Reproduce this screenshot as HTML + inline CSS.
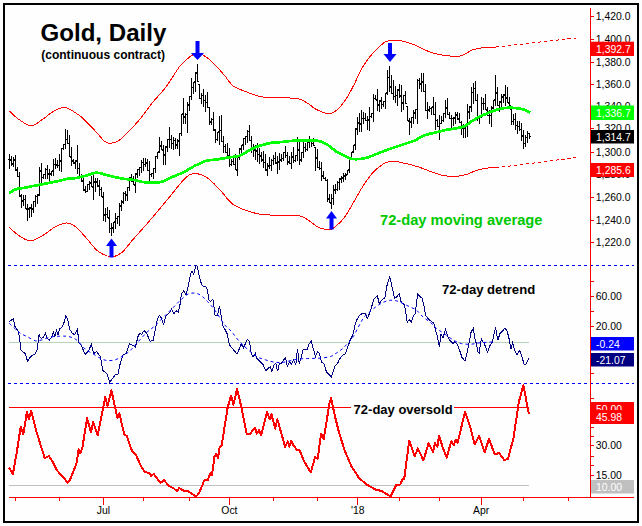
<!DOCTYPE html>
<html><head><meta charset="utf-8"><style>
html,body{margin:0;padding:0;background:#fcfdfc;}
svg{display:block;}
</style></head><body>
<svg width="642" height="526" viewBox="0 0 642 526">
<rect x="0" y="0" width="642" height="526" fill="#fcfdfc"/>
<rect x="4" y="4" width="634" height="518" fill="#fdfefd" stroke="#000" stroke-width="2"/>
<g shape-rendering="crispEdges">
<path d="M8,265.5H634M8,383.5H634" stroke="#0000ff" stroke-width="1" stroke-dasharray="3,3"/>
<path d="M9,342.5H529" stroke="#b8d4b8" stroke-width="1"/>
<path d="M9,485.5H529" stroke="#c0c0c0" stroke-width="1"/>
<path d="M9,407.5H352M454,407.5H527" stroke="#ff0000" stroke-width="1"/>
<path d="M9,497.5H634" stroke="#ff0000" stroke-width="1"/>
<path d="M590.5,8V498" stroke="#ff0000" stroke-width="1"/>
<path d="M15.5,498v3M59.5,498v3M143.5,498v3M189.5,498v3M273.5,498v3M317.5,498v3M399.5,498v3M439.5,498v3M523.5,498v3M568.5,498v3M103.5,498v7M229.5,498v7M357.5,498v7M481.5,498v7" stroke="#ff0000" stroke-width="1"/>
<path d="M591,242.5h3M591,220.5h3M591,197.5h3M591,174.5h3M591,152.5h3M591,128.5h3M591,106.5h3M591,84.5h3M591,62.5h3M591,39.5h3M591,16.5h3M591,281.5h3M591,296.5h3M591,311.5h3M591,326.5h3M591,373.5h3M591,398.5h3M591,427.5h3M591,436.5h3M591,445.5h3M591,456.5h3M591,465.5h3M591,475.5h3" stroke="#ff0000" stroke-width="1"/>
</g>
<path d="M9.3,111.0 C10.9,112.4 15.3,117.0 19.0,119.5 C22.7,122.0 27.5,125.9 31.5,125.8 C35.5,125.7 39.2,121.5 43.0,119.0 C46.8,116.5 50.3,112.9 54.0,111.0 C57.7,109.1 60.9,106.8 65.0,107.5 C69.1,108.2 74.8,112.2 78.8,115.0 C82.8,117.8 85.8,121.2 89.1,124.5 C92.4,127.8 96.0,131.8 98.5,134.6 C101.0,137.3 102.1,139.5 104.0,141.0 C105.9,142.5 107.5,143.5 110.0,143.4 C112.5,143.3 116.2,142.1 118.9,140.5 C121.6,138.9 123.5,136.4 126.0,134.0 C128.5,131.6 131.0,129.3 134.0,126.0 C137.0,122.7 140.7,118.2 144.0,114.0 C147.3,109.8 150.1,105.5 153.8,101.0 C157.5,96.5 161.6,92.8 166.0,87.0 C170.4,81.2 175.8,71.2 180.0,66.0 C184.2,60.8 188.3,58.0 191.2,55.8 C194.1,53.6 195.5,53.2 197.4,53.0 C199.3,52.8 200.5,53.7 202.4,54.7 C204.3,55.7 206.7,57.0 209.0,59.0 C211.3,61.0 213.7,63.6 216.4,66.4 C219.1,69.2 222.2,72.7 225.0,76.0 C227.8,79.3 229.6,83.3 233.3,86.0 C237.0,88.7 242.2,90.3 247.3,92.2 C252.4,94.1 256.6,96.3 264.1,97.3 C271.6,98.3 286.0,97.7 292.1,98.1 C298.2,98.5 297.9,98.6 300.5,99.5 C303.1,100.4 305.6,102.0 308.0,103.5 C310.4,105.0 313.1,107.6 315.0,108.8 C316.9,110.0 318.1,110.1 319.6,110.8 C321.1,111.5 322.3,112.5 324.1,112.9 C325.9,113.4 328.2,113.9 330.2,113.5 C332.2,113.1 334.3,112.0 336.3,110.5 C338.3,109.0 340.4,106.8 342.4,104.2 C344.4,101.6 346.5,98.5 348.5,95.1 C350.5,91.7 352.5,87.8 354.5,83.7 C356.5,79.6 358.6,74.5 360.6,70.7 C362.6,66.9 364.7,63.8 366.7,60.9 C368.7,58.0 370.8,55.6 372.8,53.3 C374.8,51.0 376.9,49.1 378.9,47.2 C380.9,45.3 383.0,43.1 385.0,42.0 C387.0,40.9 388.5,40.8 391.0,40.5 C393.5,40.2 395.8,39.8 399.8,40.5 C403.8,41.2 409.8,43.1 414.8,45.0 C419.8,46.9 425.1,50.3 429.7,52.0 C434.3,53.7 437.2,54.3 442.2,55.0 C447.2,55.7 454.7,57.0 459.7,56.2 C464.7,55.4 468.0,51.5 472.2,50.0 C476.4,48.5 480.6,48.0 484.6,47.5 C488.6,47.0 494.1,47.1 496.0,47.0" fill="none" stroke="#ff0000" stroke-width="1" shape-rendering="crispEdges"/>
<path d="M9.2,227.3 C10.9,228.8 16.1,233.8 19.6,236.0 C23.2,238.2 26.5,241.0 30.5,240.8 C34.5,240.6 39.6,237.2 43.6,234.9 C47.6,232.7 50.7,229.3 54.5,227.3 C58.3,225.3 62.9,222.9 66.5,222.9 C70.1,222.9 72.8,224.6 76.3,227.3 C79.8,230.0 83.6,235.2 87.2,239.2 C90.8,243.2 94.1,248.3 98.1,251.2 C102.1,254.1 107.2,256.5 111.2,256.7 C115.2,256.9 118.5,255.2 122.1,252.3 C125.7,249.4 127.9,245.3 133.0,239.5 C138.1,233.7 146.7,224.2 152.7,217.2 C158.7,210.2 163.6,204.1 169.0,197.6 C174.4,191.1 181.0,182.0 185.4,178.0 C189.8,174.0 191.7,173.5 195.4,173.6 C199.2,173.7 203.8,175.6 207.9,178.3 C212.0,181.0 215.8,185.7 220.0,190.0 C224.2,194.3 228.1,200.7 232.8,204.2 C237.5,207.7 242.8,209.2 248.0,211.0 C253.2,212.8 255.6,213.9 264.0,214.7 C272.4,215.5 290.9,214.8 298.2,215.7 C305.5,216.6 304.9,218.2 308.0,220.0 C311.1,221.8 314.4,225.1 316.9,226.6 C319.4,228.1 320.6,228.4 323.0,228.8 C325.4,229.2 328.7,229.9 331.1,229.3 C333.5,228.7 335.2,226.7 337.2,225.0 C339.2,223.3 341.3,221.4 343.3,218.9 C345.3,216.4 347.3,213.1 349.3,209.8 C351.3,206.5 353.4,202.7 355.4,199.1 C357.4,195.5 359.5,191.8 361.5,188.5 C363.5,185.2 365.6,182.1 367.6,179.3 C369.6,176.5 371.7,173.8 373.7,171.7 C375.7,169.5 377.8,167.9 379.8,166.4 C381.8,164.9 383.8,163.4 385.8,162.6 C387.8,161.8 389.9,161.5 391.9,161.4 C393.9,161.3 395.8,161.5 398.0,161.8 C400.2,162.1 401.6,162.6 405.0,163.4 C408.4,164.2 412.2,164.9 418.1,166.8 C424.0,168.7 434.4,173.3 440.5,174.9 C446.6,176.5 450.4,176.4 454.6,176.4 C458.8,176.4 462.1,175.7 465.8,174.7 C469.5,173.7 473.3,171.3 477.0,170.2 C480.7,169.1 485.1,168.4 488.2,168.0 C491.3,167.6 494.5,167.8 495.8,167.8" fill="none" stroke="#ff0000" stroke-width="1" shape-rendering="crispEdges"/>
<path d="M496.0,47.0L576.0,38.0" stroke="#ff0000" stroke-width="1" stroke-dasharray="3.5,2.5" shape-rendering="crispEdges"/>
<path d="M496.0,167.8L576.0,157.6" stroke="#ff0000" stroke-width="1" stroke-dasharray="3.5,2.5" shape-rendering="crispEdges"/>
<g shape-rendering="crispEdges" stroke="#000" stroke-width="1">
<path d="M9.5,154v15M11.5,156v10M13.5,157v10M15.5,155v16M17.5,167v10M19.5,172v25M21.5,194v14M23.5,195v11M25.5,195v14M27.5,204v17M29.5,207v11M31.5,204v13M33.5,201v12M35.5,195v12M37.5,194v10M39.5,167v29M41.5,163v20M43.5,174v5M45.5,168v11M47.5,165v14M49.5,169v12M51.5,171v5M53.5,159v17M55.5,158v11M57.5,160v8M59.5,154v17M61.5,148v24M63.5,144v6M65.5,129v20M67.5,130v14M69.5,135v22M71.5,147v19M73.5,159v5M75.5,160v9M77.5,145v29M79.5,163v14M81.5,174v8M83.5,175v16M85.5,186v7M87.5,184v8M89.5,181v9M91.5,176v11M93.5,175v25M95.5,178v14M97.5,178v9M99.5,180v16M101.5,187v10M103.5,192v29M105.5,208v14M107.5,207v11M109.5,210v23M111.5,223v13M113.5,222v11M115.5,213v16M117.5,216v8M119.5,203v23M121.5,200v11M123.5,192v12M125.5,191v10M127.5,187v14M129.5,177v14M131.5,174v8M133.5,176v9M135.5,173v20M137.5,169v9M139.5,167v9M141.5,160v13M143.5,158v13M145.5,158v9M147.5,159v12M149.5,161v20M151.5,173v4M153.5,168v11M155.5,156v17M157.5,152v7M159.5,137v16M161.5,141v9M163.5,145v20M165.5,146v19M167.5,139v13M169.5,127v21M171.5,135v14M173.5,137v13M175.5,138v11M177.5,139v10M179.5,133v23M181.5,114v22M183.5,98v26M185.5,113v11M187.5,102v31M189.5,96v15M191.5,78v22M193.5,82v12M195.5,72v20M197.5,64v18M199.5,84v15M201.5,93v11M203.5,89v18M205.5,95v17M207.5,92v16M209.5,107v18M211.5,118v7M213.5,112v19M215.5,129v14M217.5,132v9M219.5,116v29M221.5,115v27M223.5,136v17M225.5,144v9M227.5,143v13M229.5,148v19M231.5,159v7M233.5,156v9M235.5,154v16M237.5,157v19M239.5,148v12M241.5,145v8M243.5,138v12M245.5,136v9M247.5,130v13M249.5,125v16M251.5,136v17M253.5,144v13M255.5,145v15M257.5,143v19M259.5,148v16M261.5,152v10M263.5,151v17M265.5,154v17M267.5,163v13M269.5,157v12M271.5,159v12M273.5,155v10M275.5,152v12M277.5,156v18M279.5,153v17M281.5,154v8M283.5,152v9M285.5,146v12M287.5,152v13M289.5,156v8M291.5,152v17M293.5,147v16M295.5,155v7M297.5,137v24M299.5,142v23M301.5,152v10M303.5,142v16M305.5,143v9M307.5,142v9M309.5,136v12M311.5,139v8M313.5,138v8M315.5,147v24M317.5,149v19M319.5,161v9M321.5,162v19M323.5,171v8M325.5,177v4M327.5,179v23M329.5,194v9M331.5,194v15M333.5,185v20M335.5,184v10M337.5,181v10M339.5,178v12M341.5,176v7M343.5,173v9M345.5,173v7M347.5,170v5M349.5,159v14M351.5,152v7M353.5,145v8M355.5,128v22M357.5,117v18M359.5,113v19M361.5,110v22M363.5,112v12M365.5,113v8M367.5,116v14M369.5,107v24M371.5,113v5M373.5,94v28M375.5,95v5M377.5,89v22M379.5,100v12M381.5,97v12M383.5,101v6M385.5,93v16M387.5,70v25M389.5,66v26M391.5,75v19M393.5,80v20M395.5,86v17M397.5,89v17M399.5,84v14M401.5,85v27M403.5,95v15M405.5,91v13M407.5,106v15M409.5,118v17M411.5,117v11M413.5,110v14M415.5,109v10M417.5,79v45M419.5,78v11M421.5,73v19M423.5,73v19M425.5,84v27M427.5,102v17M429.5,106v6M431.5,107v8M433.5,97v18M435.5,102v28M437.5,119v8M439.5,115v25M441.5,116v8M443.5,113v9M445.5,100v18M447.5,98v17M449.5,112v7M451.5,115v15M453.5,117v9M455.5,112v12M457.5,112v8M459.5,113v10M461.5,121v14M463.5,124v14M465.5,125v13M467.5,104v33M469.5,106v13M471.5,87v25M473.5,83v21M475.5,81v20M477.5,94v27M479.5,115v9M481.5,97v21M483.5,98v12M485.5,94v16M487.5,107v9M489.5,110v14M491.5,106v21M493.5,100v10M495.5,75v31M497.5,87v19M499.5,101v11M501.5,94v13M503.5,94v9M505.5,85v21M507.5,87v16M509.5,97v9M511.5,109v16M513.5,114v11M515.5,113v17M517.5,121v13M519.5,121v10M521.5,123v18M523.5,130v19M525.5,135v12M527.5,131v12M529.5,133v6"/>
<path d="M8,159.5h1M10,159.5h1M10,160.5h1M12,164.5h1M12,163.5h1M14,160.5h1M14,159.5h1M16,170.5h1M16,169.5h1M18,176.5h1M18,176.5h1M20,196.5h1M20,195.5h1M22,200.5h1M22,201.5h1M24,199.5h1M24,199.5h1M26,208.5h1M26,209.5h1M28,209.5h1M28,208.5h1M30,208.5h1M30,207.5h1M32,208.5h1M32,209.5h1M34,201.5h1M34,201.5h1M36,196.5h1M36,196.5h1M38,194.5h1M38,195.5h1M40,171.5h1M40,170.5h1M42,177.5h1M42,177.5h1M44,174.5h1M44,174.5h1M46,169.5h1M46,169.5h1M48,174.5h1M48,173.5h1M50,174.5h1M50,173.5h1M52,171.5h1M52,170.5h1M54,164.5h1M54,164.5h1M56,164.5h1M56,165.5h1M58,165.5h1M58,165.5h1M60,160.5h1M60,161.5h1M62,148.5h1M62,148.5h1M64,144.5h1M64,144.5h1M66,139.5h1M66,139.5h1M68,143.5h1M68,143.5h1M70,156.5h1M70,157.5h1M72,160.5h1M72,161.5h1M74,163.5h1M74,162.5h1M76,160.5h1M76,161.5h1M78,168.5h1M78,168.5h1M80,176.5h1M80,177.5h1M82,181.5h1M82,180.5h1M84,190.5h1M84,189.5h1M86,191.5h1M86,191.5h1M88,184.5h1M88,184.5h1M90,182.5h1M90,183.5h1M92,186.5h1M92,187.5h1M94,182.5h1M94,181.5h1M96,181.5h1M96,182.5h1M98,186.5h1M98,185.5h1M100,189.5h1M100,189.5h1M102,196.5h1M102,197.5h1M104,214.5h1M104,215.5h1M106,214.5h1M106,214.5h1M108,217.5h1M108,218.5h1M110,228.5h1M110,228.5h1M112,228.5h1M112,227.5h1M114,222.5h1M114,221.5h1M116,218.5h1M116,218.5h1M118,216.5h1M118,216.5h1M120,205.5h1M120,206.5h1M122,201.5h1M122,202.5h1M124,193.5h1M124,193.5h1M126,194.5h1M126,195.5h1M128,187.5h1M128,187.5h1M130,177.5h1M130,178.5h1M132,181.5h1M132,181.5h1M134,184.5h1M134,185.5h1M136,173.5h1M136,174.5h1M138,169.5h1M138,169.5h1M140,167.5h1M140,167.5h1M142,162.5h1M142,162.5h1M144,164.5h1M144,164.5h1M146,162.5h1M146,163.5h1M148,170.5h1M148,170.5h1M150,174.5h1M150,174.5h1M152,173.5h1M152,173.5h1M154,168.5h1M154,168.5h1M156,156.5h1M156,156.5h1M158,152.5h1M158,151.5h1M160,145.5h1M160,146.5h1M162,149.5h1M162,150.5h1M164,155.5h1M164,154.5h1M166,146.5h1M166,147.5h1M168,139.5h1M168,139.5h1M170,139.5h1M170,139.5h1M172,143.5h1M172,143.5h1M174,140.5h1M174,140.5h1M176,145.5h1M176,144.5h1M178,141.5h1M178,140.5h1M180,133.5h1M180,133.5h1M182,114.5h1M182,113.5h1M184,117.5h1M184,116.5h1M186,114.5h1M186,114.5h1M188,104.5h1M188,105.5h1M190,96.5h1M190,96.5h1M192,87.5h1M192,87.5h1M194,82.5h1M194,81.5h1M196,72.5h1M196,73.5h1M198,81.5h1M198,84.5h1M200,98.5h1M200,98.5h1M202,95.5h1M202,95.5h1M204,100.5h1M204,100.5h1M206,102.5h1M206,102.5h1M208,107.5h1M208,107.5h1M210,122.5h1M210,121.5h1M212,119.5h1M212,119.5h1M214,130.5h1M214,129.5h1M216,139.5h1M216,139.5h1M218,132.5h1M218,131.5h1M220,130.5h1M220,130.5h1M222,141.5h1M222,141.5h1M224,146.5h1M224,146.5h1M226,152.5h1M226,152.5h1M228,155.5h1M228,155.5h1M230,164.5h1M230,164.5h1M232,161.5h1M232,161.5h1M234,164.5h1M234,164.5h1M236,169.5h1M236,170.5h1M238,157.5h1M238,157.5h1M240,148.5h1M240,149.5h1M242,145.5h1M242,144.5h1M244,138.5h1M244,138.5h1M246,136.5h1M246,136.5h1M248,131.5h1M248,131.5h1M250,140.5h1M250,140.5h1M252,149.5h1M252,148.5h1M254,150.5h1M254,149.5h1M256,150.5h1M256,151.5h1M258,154.5h1M258,154.5h1M260,155.5h1M260,156.5h1M262,160.5h1M262,159.5h1M264,162.5h1M264,162.5h1M266,170.5h1M266,169.5h1M268,166.5h1M268,165.5h1M270,165.5h1M270,165.5h1M272,160.5h1M272,160.5h1M274,158.5h1M274,158.5h1M276,162.5h1M276,163.5h1M278,161.5h1M278,162.5h1M280,160.5h1M280,159.5h1M282,158.5h1M282,158.5h1M284,152.5h1M284,152.5h1M286,155.5h1M286,155.5h1M288,161.5h1M288,162.5h1M290,163.5h1M290,163.5h1M292,156.5h1M292,157.5h1M294,160.5h1M294,160.5h1M296,155.5h1M296,155.5h1M298,150.5h1M298,149.5h1M300,160.5h1M300,159.5h1M302,152.5h1M302,152.5h1M304,147.5h1M304,147.5h1M306,149.5h1M306,149.5h1M308,142.5h1M308,142.5h1M310,141.5h1M310,141.5h1M312,143.5h1M312,143.5h1M314,145.5h1M314,147.5h1M316,157.5h1M316,158.5h1M318,167.5h1M318,167.5h1M320,168.5h1M320,168.5h1M322,175.5h1M322,176.5h1M324,178.5h1M324,178.5h1M326,180.5h1M326,180.5h1M328,199.5h1M328,198.5h1M330,202.5h1M330,203.5h1M332,198.5h1M332,198.5h1M334,190.5h1M334,189.5h1M336,189.5h1M336,189.5h1M338,182.5h1M338,182.5h1M340,179.5h1M340,178.5h1M342,178.5h1M342,177.5h1M344,175.5h1M344,176.5h1M346,175.5h1M346,174.5h1M348,170.5h1M348,169.5h1M350,159.5h1M350,158.5h1M352,152.5h1M352,151.5h1M354,145.5h1M354,144.5h1M356,128.5h1M356,129.5h1M358,123.5h1M358,122.5h1M360,124.5h1M360,123.5h1M362,118.5h1M362,118.5h1M364,118.5h1M364,118.5h1M366,120.5h1M366,120.5h1M368,119.5h1M368,120.5h1M370,116.5h1M370,116.5h1M372,113.5h1M372,113.5h1M374,98.5h1M374,98.5h1M376,99.5h1M376,100.5h1M378,104.5h1M378,105.5h1M380,100.5h1M380,101.5h1M382,104.5h1M382,104.5h1M384,101.5h1M384,101.5h1M386,93.5h1M386,92.5h1M388,77.5h1M388,77.5h1M390,87.5h1M390,86.5h1M392,93.5h1M392,93.5h1M394,96.5h1M394,96.5h1M396,95.5h1M396,95.5h1M398,89.5h1M398,90.5h1M400,96.5h1M400,95.5h1M402,102.5h1M402,103.5h1M404,95.5h1M404,95.5h1M406,103.5h1M406,106.5h1M408,120.5h1M408,121.5h1M410,121.5h1M410,122.5h1M412,117.5h1M412,117.5h1M414,113.5h1M414,112.5h1M416,109.5h1M416,109.5h1M418,80.5h1M418,80.5h1M420,83.5h1M420,84.5h1M422,82.5h1M422,81.5h1M424,91.5h1M424,91.5h1M426,110.5h1M426,110.5h1M428,110.5h1M428,109.5h1M430,108.5h1M430,108.5h1M432,107.5h1M432,106.5h1M434,114.5h1M434,114.5h1M436,120.5h1M436,120.5h1M438,126.5h1M438,126.5h1M440,123.5h1M440,123.5h1M442,120.5h1M442,120.5h1M444,113.5h1M444,113.5h1M446,107.5h1M446,108.5h1M448,114.5h1M448,114.5h1M450,118.5h1M450,118.5h1M452,118.5h1M452,118.5h1M454,118.5h1M454,117.5h1M456,115.5h1M456,114.5h1M458,119.5h1M458,118.5h1M460,122.5h1M460,122.5h1M462,128.5h1M462,128.5h1M464,128.5h1M464,128.5h1M466,125.5h1M466,124.5h1M468,112.5h1M468,111.5h1M470,106.5h1M470,107.5h1M472,92.5h1M472,92.5h1M474,88.5h1M474,88.5h1M476,100.5h1M476,100.5h1M478,118.5h1M478,117.5h1M480,115.5h1M480,115.5h1M482,103.5h1M482,103.5h1M484,103.5h1M484,103.5h1M486,109.5h1M486,110.5h1M488,115.5h1M488,115.5h1M490,115.5h1M490,115.5h1M492,108.5h1M492,107.5h1M494,100.5h1M494,99.5h1M496,93.5h1M496,92.5h1M498,105.5h1M498,105.5h1M500,101.5h1M500,102.5h1M502,96.5h1M502,97.5h1M504,94.5h1M504,95.5h1M506,97.5h1M506,98.5h1M508,102.5h1M508,103.5h1M510,105.5h1M510,109.5h1M512,121.5h1M512,121.5h1M514,119.5h1M514,119.5h1M516,125.5h1M516,125.5h1M518,126.5h1M518,126.5h1M520,129.5h1M520,129.5h1M522,136.5h1M522,135.5h1M524,143.5h1M524,143.5h1M526,137.5h1M526,137.5h1M528,133.5h1M528,133.5h1M530,136.5h1"/>
</g>
<path d="M9.1,192.9 C10.3,192.3 13.8,190.0 16.2,189.2 C18.6,188.4 20.9,188.4 23.7,187.9 C26.5,187.4 29.9,186.6 33.0,186.0 C36.1,185.4 39.3,184.8 42.4,184.2 C45.5,183.6 48.6,182.9 51.7,182.3 C54.8,181.7 58.3,181.0 61.1,180.4 C63.9,179.8 66.1,179.0 68.6,178.6 C71.1,178.2 73.2,178.5 76.0,178.0 C78.8,177.5 82.3,176.7 85.4,175.8 C88.5,175.0 92.5,173.4 94.7,172.9 C96.9,172.4 96.6,172.6 98.5,172.9 C100.4,173.2 103.1,174.1 105.9,174.8 C108.7,175.5 112.2,176.5 115.3,177.2 C118.4,177.9 121.3,178.4 124.6,178.9 C127.9,179.4 132.0,179.6 135.0,180.1 C138.0,180.6 139.9,181.6 142.4,182.0 C144.9,182.4 147.4,182.5 149.9,182.6 C152.4,182.7 154.9,182.9 157.4,182.6 C159.9,182.3 162.4,181.6 164.9,180.7 C167.4,179.8 169.8,178.1 172.3,177.0 C174.8,175.9 177.3,175.1 179.8,173.9 C182.3,172.8 184.8,171.5 187.3,170.1 C189.8,168.8 192.7,166.9 194.8,165.8 C196.9,164.7 198.1,164.5 200.0,163.6 C201.9,162.8 203.7,161.4 206.2,160.7 C208.7,160.1 211.9,160.1 215.0,159.7 C218.1,159.3 221.6,158.6 224.9,158.1 C228.2,157.6 232.3,157.1 234.9,156.6 C237.5,156.2 238.6,156.1 240.5,155.4 C242.4,154.7 244.1,153.4 246.1,152.3 C248.1,151.2 250.2,149.6 252.3,148.6 C254.4,147.6 256.5,146.9 258.6,146.2 C260.7,145.5 262.5,144.9 264.8,144.3 C267.1,143.7 269.8,143.0 272.3,142.6 C274.8,142.3 276.6,142.5 280.0,142.2 C283.4,141.9 288.4,141.1 292.5,140.8 C296.6,140.5 300.8,140.5 304.9,140.5 C309.0,140.5 314.3,140.5 317.4,140.8 C320.5,141.2 321.5,141.7 323.6,142.6 C325.7,143.5 327.7,144.9 329.8,146.4 C331.9,147.9 334.0,150.1 336.1,151.4 C338.2,152.8 340.2,153.5 342.3,154.5 C344.4,155.5 346.8,156.9 348.5,157.6 C350.2,158.4 350.4,158.8 352.3,159.0 C354.2,159.2 357.5,159.2 360.0,159.0 C362.5,158.8 364.2,158.7 367.5,157.6 C370.8,156.5 375.8,154.2 379.9,152.6 C384.0,151.0 388.2,149.4 392.4,148.0 C396.5,146.6 401.1,145.2 404.8,143.9 C408.5,142.7 412.1,141.7 414.8,140.5 C417.5,139.3 418.9,137.8 421.0,136.8 C423.1,135.8 425.0,135.2 427.3,134.5 C429.6,133.8 432.9,133.1 434.8,132.6 C436.7,132.2 436.6,132.3 438.6,131.8 C440.7,131.3 444.2,130.3 447.1,129.7 C450.0,129.1 452.8,129.0 455.7,128.4 C458.6,127.8 461.4,127.6 464.3,126.3 C467.2,125.0 470.0,122.3 472.8,120.6 C475.6,118.9 478.5,117.4 481.4,116.0 C484.3,114.6 487.1,113.2 490.0,112.1 C492.9,111.0 495.6,109.9 498.5,109.2 C501.4,108.5 504.2,108.0 507.1,107.8 C510.0,107.6 512.9,107.8 515.7,108.1 C518.6,108.4 521.8,109.0 524.2,109.8 C526.6,110.5 529.2,112.1 530.2,112.6" fill="none" stroke="#00ff00" stroke-width="2.7" shape-rendering="crispEdges"/>
<path d="M195.5,41h4v12h4.5l-6.5,7l-6.5,-7h4.5z" fill="#0000ff"/>
<path d="M388,43h4v11h4.5l-6.5,8l-6.5,-8h4.5z" fill="#0000ff"/>
<path d="M111.5,238.5l5.5,7.5h-3.5v11.5h-4v-11.5h-3.5z" fill="#0000ff"/>
<path d="M331.5,211l5.5,7.5h-3.5v11h-4v-11h-3.5z" fill="#0000ff"/>
<path d="M9.3,321.7L13.4,318.7L14.9,326.3L16.4,328.6L18.7,332.4L20.2,343.8L21.0,349.9L23.3,352.2L25.5,353.7L27.5,361.3L30.1,357.5L32.4,355.2L35.4,353.7L37.0,349.9L38.2,341.5L39.2,333.9L40.3,337.7L41.5,338.5L43.4,337.0L45.3,333.2L47.3,338.5L49.4,340.0L51.4,337.7L53.4,332.4L54.9,336.2L56.4,330.1L58.0,334.7L59.8,328.6L61.6,327.8L63.6,324.0L65.9,315.7L67.7,319.5L69.7,329.3L72.3,333.2L74.6,334.7L77.6,329.3L78.4,339.2L79.1,343.0L80.7,344.6L82.2,347.6L85.2,354.5L88.3,351.4L91.3,344.6L93.6,353.7L96.6,351.4L100.4,356.7L102.7,370.4L105.0,372.0L107.3,374.2L109.6,382.6L112.3,378.8L115.7,374.2L117.9,374.2L120.2,363.6L123.3,354.5L126.3,353.7L129.4,343.8L132.4,345.3L135.4,346.9L138.0,336.6L139.6,333.5L141.8,334.3L144.1,330.5L146.4,332.8L148.7,338.1L150.2,341.1L153.3,340.4L154.8,332.0L157.1,320.6L159.3,315.3L161.6,318.3L163.6,325.2L165.4,316.8L167.7,314.5L170.0,312.2L171.5,309.2L173.8,313.7L176.1,310.7L178.4,312.2L179.9,305.4L181.4,294.0L183.7,290.9L186.0,294.7L188.3,286.3L190.5,274.2L192.1,271.1L193.6,274.2L195.9,265.3L197.4,266.6L198.9,274.2L201.2,283.3L203.0,286.3L206.1,287.1L207.6,290.2L208.8,300.0L210.7,301.6L212.9,299.3L215.2,316.0L217.5,315.3L219.5,306.1L221.3,316.8L222.9,325.7L225.1,329.7L227.4,334.3L228.6,342.2L230.3,346.2L232.5,348.5L237.1,354.2L239.4,348.5L241.1,343.9L243.4,347.9L247.4,339.4L249.6,341.7L250.8,351.9L253.1,357.1L255.3,353.6L256.5,358.2L259.3,361.0L263.3,365.0L265.6,370.7L267.9,368.5L270.2,366.7L271.9,371.3L274.2,364.5L275.9,363.3L277.6,371.3L279.3,363.9L281.6,363.3L283.3,360.5L285.6,357.3L287.3,366.7L289.6,361.6L291.3,363.9L293.6,359.9L295.8,364.5L297.5,349.1L299.3,363.9L301.0,357.6L303.2,349.6L307.2,349.6L308.9,344.5L311.2,341.1L313.5,349.6L315.6,356.5L317.5,351.4L319.2,353.1L321.5,362.2L323.8,363.3L326.6,372.4L328.9,374.2L331.5,377.0L333.5,370.7L335.2,365.6L337.4,363.9L339.7,358.8L342.0,355.9L345.4,353.6L347.7,347.4L350.0,340.5L352.3,336.0L353.3,333.5L355.3,323.6L357.3,318.9L360.0,314.9L362.6,313.2L365.3,313.6L367.3,318.2L370.0,312.2L372.6,303.6L374.0,298.9L377.3,295.6L379.3,303.6L381.3,300.3L384.9,297.6L386.6,287.0L389.7,276.3L391.9,286.3L394.6,298.3L396.6,296.9L399.2,293.6L401.2,302.3L404.6,304.9L407.2,322.2L409.2,319.6L411.2,322.2L413.2,316.2L415.2,313.6L417.7,293.7L419.7,296.3L422.3,298.3L424.3,307.6L425.6,315.6L429.0,319.6L432.3,322.3L433.6,322.3L435.6,330.2L437.6,337.6L439.4,346.9L441.0,334.2L443.0,337.6L445.6,329.6L447.6,336.2L450.3,340.9L452.9,343.6L454.9,341.6L457.6,344.9L459.6,350.2L461.9,357.2L464.9,361.0L467.4,351.5L470.2,336.9L471.1,332.0L473.3,328.2L475.5,341.8L476.5,343.4L477.6,351.6L479.3,353.3L480.4,344.0L481.5,338.0L482.5,341.3L484.2,343.4L485.3,346.2L487.4,352.2L490.2,345.1L492.4,341.8L494.0,334.2L495.6,327.6L496.7,334.2L497.8,340.2L500.0,333.6L502.2,331.5L504.9,328.2L507.1,330.9L509.3,339.6L510.9,349.4L512.5,342.9L514.7,350.0L516.9,354.9L519.6,350.5L521.8,356.0L524.0,364.2L525.6,364.7L528.9,358.7" fill="none" stroke="#000080" stroke-width="1" shape-rendering="crispEdges"/>
<path d="M9.3,323.3 C10.1,324.1 12.3,326.2 14.1,327.8 C15.9,329.4 17.9,331.7 20.2,333.2 C22.5,334.7 25.3,335.7 27.8,337.0 C30.3,338.3 33.1,340.3 35.4,340.8 C37.7,341.3 39.0,340.6 41.5,340.0 C44.0,339.4 47.7,337.6 50.7,337.0 C53.8,336.4 57.3,336.3 59.8,336.2 C62.3,336.1 63.9,336.0 65.9,336.2 C67.9,336.4 70.0,336.7 72.0,337.5 C74.0,338.3 75.4,338.9 77.6,340.8 C79.8,342.7 82.7,347.0 85.2,349.1 C87.7,351.2 90.3,352.2 92.8,353.7 C95.3,355.2 98.1,357.2 100.4,358.3 C102.7,359.4 104.2,360.2 106.5,360.5 C108.8,360.8 111.8,360.6 114.1,360.1 C116.4,359.6 118.2,358.6 120.2,357.5 C122.2,356.4 124.5,355.0 126.3,353.7 C128.1,352.4 129.0,351.8 130.9,349.9 C132.8,347.9 135.3,345.0 138.0,342.0 C140.7,339.0 144.4,334.7 147.2,332.0 C150.0,329.3 151.8,328.7 154.8,325.9 C157.8,323.1 162.4,318.3 165.4,315.3 C168.4,312.3 170.4,310.2 173.0,307.7 C175.6,305.1 178.1,302.3 180.7,300.0 C183.2,297.7 185.8,295.1 188.3,294.0 C190.8,292.9 193.6,292.8 195.9,293.2 C198.2,293.6 200.1,294.8 202.0,296.2 C203.9,297.6 205.4,299.2 207.6,301.6 C209.8,304.0 212.4,306.9 215.2,310.7 C218.0,314.5 221.6,320.9 224.3,324.4 C227.0,327.8 229.1,328.8 231.4,331.4 C233.7,334.0 235.5,337.1 238.2,340.0 C240.9,342.9 244.3,346.4 247.4,349.1 C250.5,351.9 253.5,354.7 256.5,356.5 C259.5,358.3 262.6,358.9 265.6,359.9 C268.6,360.8 271.7,361.8 274.7,362.2 C277.7,362.6 280.2,362.7 283.8,362.2 C287.4,361.7 292.4,359.9 296.4,359.3 C300.4,358.7 304.0,358.7 307.8,358.5 C311.6,358.3 315.4,358.5 319.2,358.2 C323.0,357.9 327.8,357.4 330.6,356.5 C333.5,355.6 334.4,354.3 336.3,353.1 C338.2,351.9 340.1,350.7 342.0,349.1 C343.9,347.5 345.8,345.5 347.7,343.4 C349.6,341.3 350.7,340.7 353.3,336.5 C355.9,332.3 360.5,322.3 363.3,318.2 C366.1,314.1 367.8,313.6 370.0,311.6 C372.2,309.6 374.4,307.9 376.6,306.3 C378.8,304.8 381.1,303.3 383.3,302.3 C385.5,301.3 387.7,300.5 389.9,300.3 C392.1,300.1 394.4,300.3 396.6,300.9 C398.8,301.4 401.0,302.6 403.2,303.6 C405.4,304.6 407.7,305.8 409.9,306.9 C412.1,308.0 414.3,308.5 416.5,310.2 C418.7,311.9 420.6,314.8 423.0,316.9 C425.4,319.0 428.8,321.0 431.0,322.9 C433.2,324.8 434.3,326.6 436.3,328.3 C438.3,330.0 440.1,330.9 443.0,332.9 C445.9,334.9 450.5,338.4 453.6,340.2 C456.7,342.0 458.7,342.9 461.6,343.6 C464.5,344.3 468.0,344.3 470.9,344.2 C473.8,344.1 475.4,343.3 478.9,342.9 C482.4,342.5 489.8,342.1 492.0,342.0" fill="none" stroke="#0000ff" stroke-width="1" stroke-dasharray="3,3"/>
<path d="M8.8,467.5L12.9,473.8L16.5,454.0L20.7,426.8L23.4,434.1L26.9,411.7L29.0,419.5L31.1,410.5L36.3,431.0L40.0,443.0L44.7,458.1L48.9,456.0L52.3,461.0L57.2,470.7L62.3,476.0L67.7,482.8L70.0,479.9L73.8,470.4L76.7,462.8L78.6,449.5L80.5,453.3L82.4,447.6L84.8,432.4L87.1,418.2L90.9,432.4L93.2,422.0L97.6,435.3L101.4,416.3L105.2,397.3L107.6,405.8L111.4,390.2L114.7,405.8L117.5,418.2L119.4,413.4L124.2,434.3L127.0,436.2L131.8,450.5L135.6,454.3L141.3,466.6L145.1,472.3L149.4,472.9L151.1,476.0L153.7,473.9L157.1,478.6L160.6,482.8L164.0,480.3L169.1,485.9L174.3,488.8L176.8,491.1L179.4,488.0L184.6,491.4L188.0,491.1L191.4,493.5L196.2,496.5L199.1,493.1L204.3,480.3L207.7,480.3L210.3,473.4L212.0,475.1L214.5,456.3L216.3,453.7L218.0,458.0L219.7,446.9L221.7,445.0L227.7,407.3L231.1,395.6L233.4,404.7L237.1,388.8L241.4,407.3L246.6,433.8L250.0,433.8L255.1,427.8L256.8,433.8L259.1,429.9L261.1,435.5L267.1,411.6L269.7,419.3L271.4,414.1L275.2,428.7L277.4,419.3L285.1,446.7L287.7,441.5L289.4,446.7L291.1,440.7L293.7,445.8L297.1,450.1L299.7,450.5L304.0,461.3L310.8,472.4L315.1,457.0L317.7,458.7L321.1,433.8L323.7,439.0L329.7,402.1L331.1,398.1L334.8,415.6L339.2,433.1L344.7,450.6L351.2,465.9L358.9,477.9L366.5,484.5L375.3,489.5L381.9,491.1L390.6,496.5L396.1,485.2L400.4,484.5L402.6,478.6L404.2,479.0L409.2,440.8L414.7,456.1L417.9,448.4L423.4,460.4L428.6,443.2L433.1,452.3L434.9,443.2L437.3,446.8L439.1,436.0L443.1,448.6L446.7,457.7L451.2,441.4L453.9,445.0L455.7,439.6L457.5,443.2L465.1,411.6L470.2,427.0L474.7,444.1L479.2,436.0L484.6,452.3L489.1,438.7L494.5,454.1L499.1,453.2L504.5,460.4L508.1,458.6L513.5,437.8L518.9,401.7L523.4,385.1L528.9,414.3" fill="none" stroke="#ff0000" stroke-width="2" stroke-linejoin="round" shape-rendering="crispEdges"/>
<text x="40.5" y="41" font-family='"Liberation Sans", sans-serif' font-weight="bold" font-size="24.1" fill="#000">Gold, Daily</text>
<text x="41.2" y="59" font-family='"Liberation Sans", sans-serif' font-weight="bold" font-size="12.05" fill="#000">(continuous contract)</text>
<text x="380" y="225" font-family='"Liberation Sans", sans-serif' font-weight="bold" font-size="14.7" fill="#00c800">72-day moving average</text>
<text x="442" y="294" font-family='"Liberation Sans", sans-serif' font-weight="bold" font-size="13.1" fill="#000">72-day detrend</text>
<rect x="351" y="401" width="103" height="14" fill="#fdfefd"/>
<text x="353.6" y="414.4" font-family='"Liberation Sans", sans-serif' font-weight="bold" font-size="13" fill="#000">72-day oversold</text>
<text x="595.8" y="246.0" font-family='"Liberation Sans", sans-serif' font-size="10.4" fill="#000">1,220.0</text>
<text x="595.8" y="224.0" font-family='"Liberation Sans", sans-serif' font-size="10.4" fill="#000">1,240.0</text>
<text x="595.8" y="201.0" font-family='"Liberation Sans", sans-serif' font-size="10.4" fill="#000">1,260.0</text>
<text x="595.8" y="178.0" font-family='"Liberation Sans", sans-serif' font-size="10.4" fill="#000">1,280.0</text>
<text x="595.8" y="156.0" font-family='"Liberation Sans", sans-serif' font-size="10.4" fill="#000">1,300.0</text>
<text x="595.8" y="132.0" font-family='"Liberation Sans", sans-serif' font-size="10.4" fill="#000">1,320.0</text>
<text x="595.8" y="110.0" font-family='"Liberation Sans", sans-serif' font-size="10.4" fill="#000">1,340.0</text>
<text x="595.8" y="88.0" font-family='"Liberation Sans", sans-serif' font-size="10.4" fill="#000">1,360.0</text>
<text x="595.8" y="66.0" font-family='"Liberation Sans", sans-serif' font-size="10.4" fill="#000">1,380.0</text>
<text x="595.8" y="43.0" font-family='"Liberation Sans", sans-serif' font-size="10.4" fill="#000">1,400.0</text>
<text x="595.8" y="20.0" font-family='"Liberation Sans", sans-serif' font-size="10.4" fill="#000">1,420.0</text>
<text x="595.8" y="299.8" font-family='"Liberation Sans", sans-serif' font-size="10.4" fill="#000">60.00</text>
<text x="595.8" y="330.1" font-family='"Liberation Sans", sans-serif' font-size="10.4" fill="#000">20.00</text>
<text x="595.8" y="449.3" font-family='"Liberation Sans", sans-serif' font-size="10.4" fill="#000">30.00</text>
<text x="595.8" y="478.7" font-family='"Liberation Sans", sans-serif' font-size="10.4" fill="#000">15.00</text>
<rect x="591" y="41.7" width="43" height="14.3" fill="#ff0000"/>
<text x="596" y="52.6" font-family='"Liberation Sans", sans-serif' font-size="10.4" fill="#fff">1,392.7</text>
<rect x="591" y="105.5" width="43" height="14.5" fill="#00ff00"/>
<text x="596" y="116.5" font-family='"Liberation Sans", sans-serif' font-size="10.4" fill="#fff">1,336.7</text>
<rect x="591" y="130.0" width="43" height="13.5" fill="#000000"/>
<text x="596" y="140.6" font-family='"Liberation Sans", sans-serif' font-size="10.4" fill="#fff">1,314.7</text>
<rect x="591" y="163.0" width="43" height="14.0" fill="#ff0000"/>
<text x="596" y="173.8" font-family='"Liberation Sans", sans-serif' font-size="10.4" fill="#fff">1,285.6</text>
<rect x="591" y="337.0" width="43" height="13.5" fill="#0000ff"/>
<text x="596" y="347.6" font-family='"Liberation Sans", sans-serif' font-size="10.4" fill="#fff">-0.24</text>
<rect x="591" y="353.0" width="43" height="13.5" fill="#000080"/>
<text x="596" y="363.6" font-family='"Liberation Sans", sans-serif' font-size="10.4" fill="#fff">-21.07</text>
<rect x="591" y="402" width="43" height="22" fill="#ff0000"/>
<text x="596" y="413" font-family='"Liberation Sans", sans-serif' font-size="10.4" fill="#fff">50.00</text>
<rect x="591" y="410" width="43" height="14" fill="#ff0000"/>
<text x="596" y="420.5" font-family='"Liberation Sans", sans-serif' font-size="10.4" fill="#fff">45.98</text>
<rect x="591" y="480.0" width="43" height="13.5" fill="#c0c0c0"/>
<text x="596" y="490.6" font-family='"Liberation Sans", sans-serif' font-size="10.4" fill="#fff">10.00</text>
<text x="103.4" y="514" text-anchor="middle" font-family='"Liberation Sans", sans-serif' font-size="10.4" fill="#000">Jul</text>
<text x="229.4" y="514" text-anchor="middle" font-family='"Liberation Sans", sans-serif' font-size="10.4" fill="#000">Oct</text>
<text x="357.8" y="514" text-anchor="middle" font-family='"Liberation Sans", sans-serif' font-size="10.4" fill="#000">'18</text>
<text x="481.2" y="514" text-anchor="middle" font-family='"Liberation Sans", sans-serif' font-size="10.4" fill="#000">Apr</text>
</svg>
</body></html>
